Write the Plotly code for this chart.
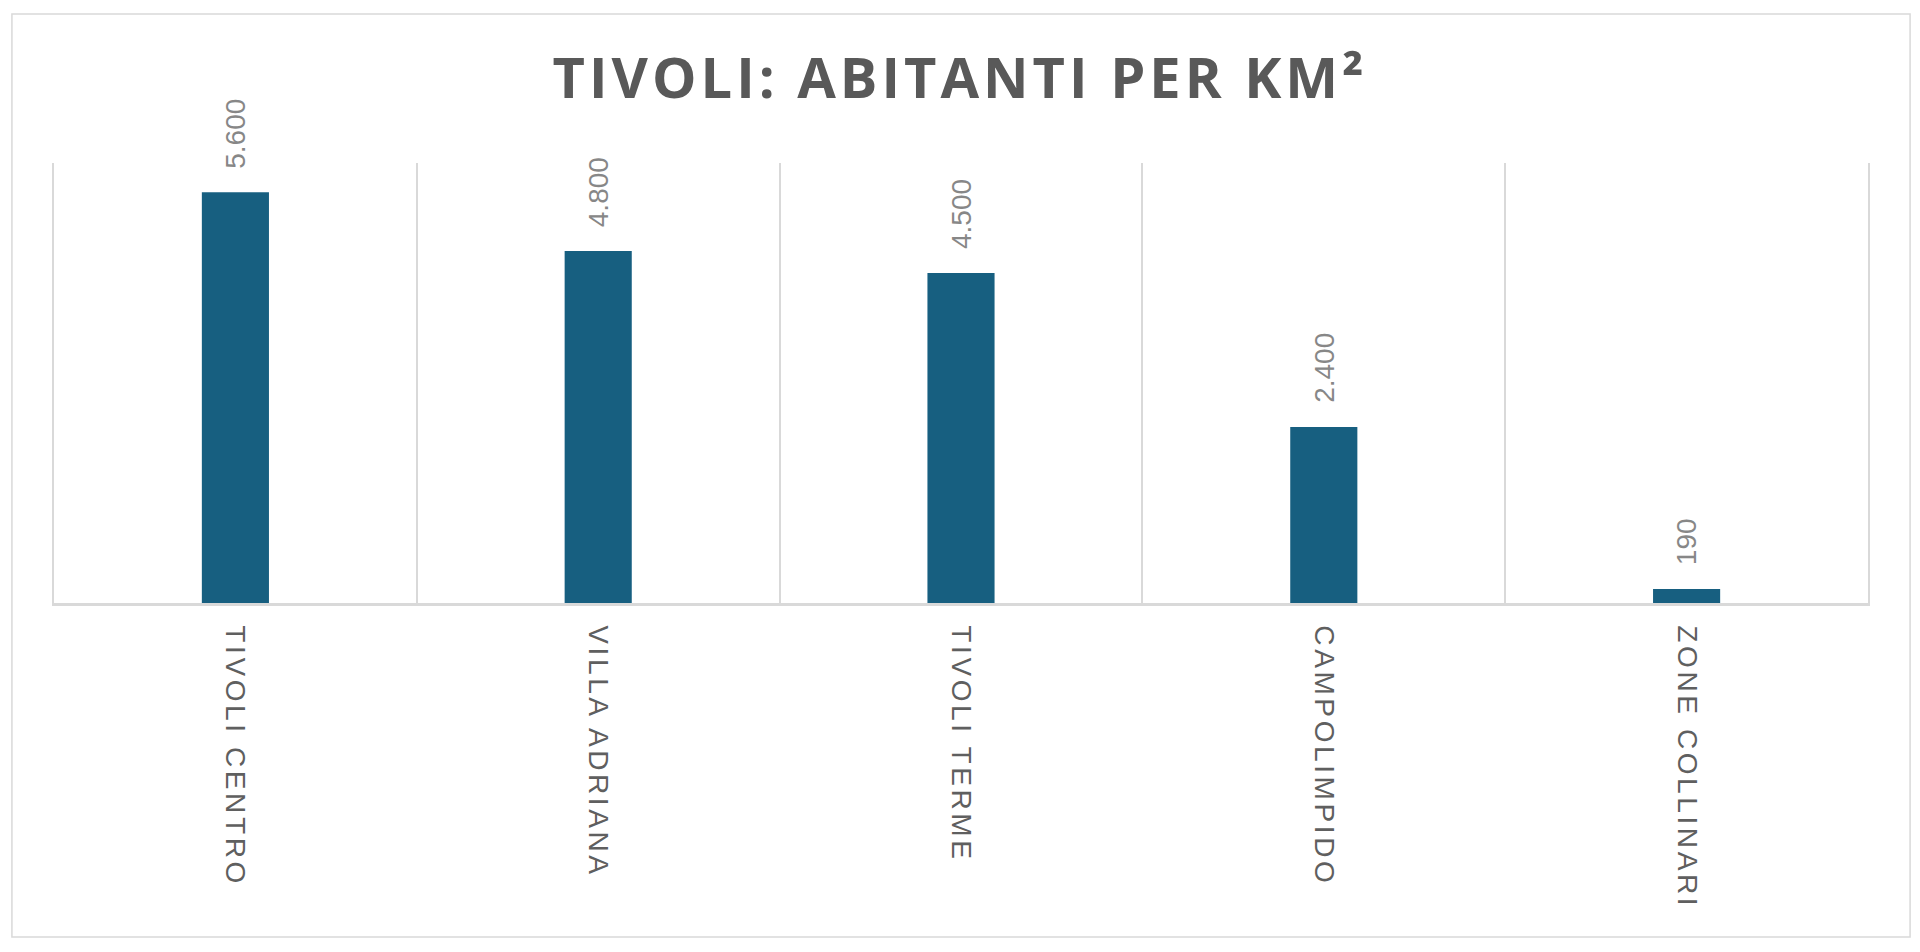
import plotly.graph_objects as go

# Dati: densità abitativa per zona (abitanti per km²)
zone = ["TIVOLI CENTRO", "VILLA ADRIANA", "TIVOLI TERME", "CAMPOLIMPIDO", "ZONE COLLINARI"]
abitanti_km2 = [5600, 4800, 4500, 2400, 190]
etichette = [f"{v:,}".replace(",", ".") for v in abitanti_km2]

GRIGIO = "#d9d9d9"
TESTO = "#595959"

fig = go.Figure()
fig.add_trace(go.Bar(
    x=zone,
    y=abitanti_km2,
    width=0.185,
    marker=dict(color="#175f80", line=dict(width=0)),
    hoverinfo="x+y",
))

# etichette dei valori, ruotate sopra le barre
for z, v, t in zip(zone, abitanti_km2, etichette):
    fig.add_annotation(
        x=z, y=v, text=t,
        textangle=-90,
        xanchor="center", yanchor="bottom",
        yshift=22,
        showarrow=False,
        font=dict(family="Liberation Sans, Arial", size=28, color="#878787"),
    )

# cornice esterna del grafico
fig.add_shape(
    type="rect", xref="paper", yref="paper",
    x0=-0.0232, x1=1.0232, y0=-0.759, y1=1.3386,
    line=dict(color=GRIGIO, width=1.5),
    fillcolor="rgba(0,0,0,0)",
    layer="below",
)

# la pagina ha 8px di margine, quindi la figura è 16px più piccola
fig.update_layout(
    width=1904,
    height=936,
    title=dict(
        text="TIVOLI: ABITANTI PER KM²",
        x=0.5, xanchor="center",
        y=1 - 70.5 / 936, yanchor="middle",
        yref="container",
        font=dict(family="Open Sans, Liberation Sans", size=56, color=TESTO, weight="bold"),
    ),
    margin=dict(l=46, r=44, t=155, b=341, pad=0),
    plot_bgcolor="white",
    paper_bgcolor="white",
    showlegend=False,
    xaxis=dict(
        type="category",
        tickson="boundaries",
        showgrid=True,
        gridcolor=GRIGIO,
        gridwidth=1.5,
        showline=True,
        linecolor=GRIGIO,
        linewidth=2.5,
        ticks="",
        tickangle=90,
        ticklabelstandoff=14,
        tickfont=dict(family="Liberation Sans, Arial", size=28, color="#5f5f5f"),
        zeroline=False,
    ),
    yaxis=dict(
        range=[0, 6000],
        showgrid=False,
        showticklabels=False,
        ticks="",
        showline=True,
        mirror=True,
        linecolor=GRIGIO,
        linewidth=1.5,
        zeroline=False,
    ),
)

# spaziatura delle lettere come nell'originale
spaziatura = """
var gd = document.getElementById('{plot_id}');
gd.querySelectorAll('.xtick text').forEach(function (t) { t.style.letterSpacing = '3.6px'; });
gd.querySelectorAll('.gtitle').forEach(function (t) { t.style.letterSpacing = '4px'; });
"""

fig.write_html("out.html", post_script=spaziatura)
